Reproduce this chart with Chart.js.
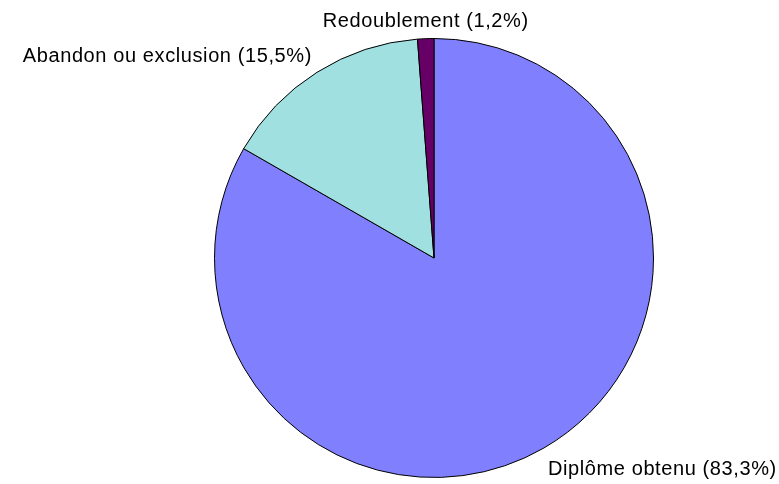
<!DOCTYPE html>
<html>
<head>
<meta charset="utf-8">
<script src="https://cdn.jsdelivr.net/npm/chart.js@4"></script>
<style>
  body { margin: 0; background: #fff; }
  canvas { display: block; }
</style>
</head>
<body>
<canvas id="myChart" width="779" height="484"></canvas>
<script>
// data
const categories = ['Diplôme obtenu', 'Abandon ou exclusion', 'Redoublement'];
const shares = [83.3, 15.5, 1.2];
const sliceColors = ['#8080FF', '#A0E0E0', '#660066'];

// draws "Label (x,y%)" just outside each slice
const outsideLabels = {
	id: 'outsideLabels',
	afterDraw(chart, args, opts) {
		const ctx = chart.ctx;
		const meta = chart.getDatasetMeta(0);
		ctx.save();
		ctx.font = '20px "Liberation Sans", Arial, sans-serif';
		ctx.letterSpacing = '0.6px';
		ctx.fillStyle = '#000';
		ctx.textBaseline = 'middle';
		meta.data.forEach((arc, i) => {
			const p = arc.getProps(['x', 'y', 'startAngle', 'endAngle', 'outerRadius'], true);
			const mid = (p.startAngle + p.endAngle) / 2;
			const dx = Math.cos(mid), dy = Math.sin(mid);
			let x = p.x + dx * p.outerRadius;
			let y = p.y + dy * p.outerRadius;
			const nudge = opts.nudge[i];
			x += nudge[0];
			y += nudge[1];
			ctx.textAlign = dx > 0.3 ? 'left' : (dx < -0.3 ? 'right' : 'center');
			const txt = categories[i] + ' (' + String(shares[i]).replace('.', ',') + '%)';
			ctx.fillText(txt, x, y);
		});
		ctx.restore();
	}
};

const ctx = document.getElementById('myChart');
const myChart = new Chart(ctx, {
	type: 'pie',
	data: {
		labels: categories,
		datasets: [{
			data: shares,
			backgroundColor: sliceColors,
			borderColor: '#000',
			borderWidth: 1,
			hoverOffset: 0
		}]
	},
	options: {
		responsive: false,
		animation: false,
		devicePixelRatio: 1,
		layout: {
			padding: { left: 100, right: 11, top: 38, bottom: 6 }
		},
		plugins: {
			legend: { display: false },
			tooltip: { enabled: false },
			outsideLabels: {
				nudge: [[4, 22], [-5, -16], [0, -17]]
			}
		}
	},
	plugins: [outsideLabels]
});
</script>
</body>
</html>
